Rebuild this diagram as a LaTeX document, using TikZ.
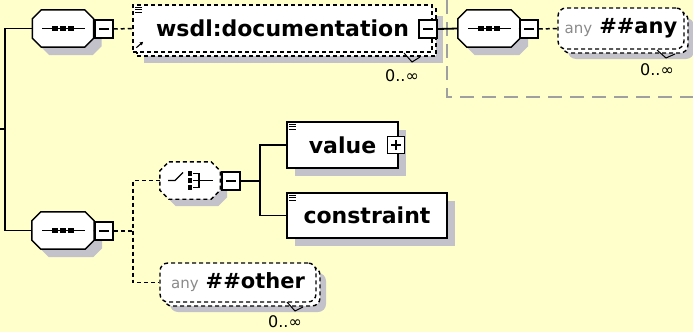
\documentclass[tikz,border=0pt]{standalone}
\usepackage{fontspec}
\setmainfont{DejaVu Sans}
\usetikzlibrary{arrows.meta}

\definecolor{paper}{HTML}{FFFFCC}
\definecolor{shadowgray}{HTML}{C3C1C9}
\definecolor{wildgray}{HTML}{8A8A8A}
\definecolor{framegray}{HTML}{A0A0A0}

\newcommand{\elemfont}{\fontsize{22}{26}\selectfont\bfseries}
\newcommand{\wildfont}{\fontsize{21}{25}\selectfont\bfseries}
\newcommand{\nsfont}{\fontsize{15}{18}\selectfont\color{wildgray}}
\newcommand{\occfont}{\fontsize{16}{19}\selectfont}

% octagon outline of a compositor node, corners cut by #2
\newcommand{\octpath}[2]{([xshift=#2]#1.north west) -- ([xshift=-#2]#1.north east)
  -- ([yshift=-#2]#1.north east) -- ([yshift=#2]#1.south east)
  -- ([xshift=-#2]#1.south east) -- ([xshift=#2]#1.south west)
  -- ([yshift=#2]#1.south west) -- ([yshift=-#2]#1.north west) -- cycle}

% sequence compositor: shadow, octagon and the dotted bar
\newcommand{\seqshape}[1]{%
  \fill[shadowgray, transform canvas={shift={(8,8)}}] \octpath{#1}{9pt};
  \filldraw[fill=white, line width=1.5pt] \octpath{#1}{9pt};
  \draw[line width=1.5pt] ([xshift=-21pt]#1.center) -- ([xshift=22pt]#1.center);
  \foreach \dd in {-8,0,8}
    \fill ([xshift=\dd pt]#1.center) +(-2.7pt,-2.7pt) rectangle +(2.7pt,2.7pt);
}

\tikzset{
  conn/.style={line width=1.8pt},
  optconn/.style={line width=1.5pt, dash pattern=on 4pt off 3pt},
  dashborder/.style={line width=1.4pt, dash pattern=on 4pt off 3pt},
  dropshade/.style={preaction={fill=shadowgray, draw=none, transform canvas={shift={(#1,#1)}}}},
  stackcopy/.style={preaction={draw, fill=white, dashborder, transform canvas={shift={(#1,#1)}}}},
  slot/.style={rectangle, inner sep=0pt, minimum width=61pt, minimum height=37pt},
  toggle/.style={rectangle, draw, line width=1.5pt, fill=white, minimum width=18pt,
      minimum height=18pt, inner sep=0pt},
  minus/.style={path picture={
      \draw[black, line width=1.4pt, solid] ([xshift=-5pt]path picture bounding box.center) -- ([xshift=5pt]path picture bounding box.center);}},
  plus/.style={path picture={
      \draw[black, line width=1.4pt, solid] ([xshift=-5pt]path picture bounding box.center) -- ([xshift=5pt]path picture bounding box.center);
      \draw[black, line width=1.4pt, solid] ([yshift=-5pt]path picture bounding box.center) -- ([yshift=5pt]path picture bounding box.center);}},
  elem/.style={rectangle, draw, line width=1.5pt, fill=white, inner sep=0pt, font=\elemfont, dropshade=8},
  multielem/.style={rectangle, draw, dashborder, fill=white, inner sep=0pt, font=\elemfont,
      dropshade=11, stackcopy=4},
  multiwild/.style={rectangle, rounded corners=8pt, draw, dashborder, fill=white, inner sep=0pt,
      dropshade=10, stackcopy=4},
  occ/.style={font=\occfont, inner sep=0pt},
  notch/.style={line width=1pt},
  docmark/.style={line width=0.9pt},
  groupframe/.style={draw=framegray, line width=1.4pt, dash pattern=on 14pt off 8pt}
}

\begin{document}
\begin{tikzpicture}[x=1pt, y=-1pt]
  \fill[paper] (0,0) rectangle (693,332);
  \useasboundingbox (0,0) rectangle (693,332);

  % frame of the nested anonymous type
  \coordinate (frametop) at (447,0);
  \coordinate (frameend) at (693,97);
  \draw[groupframe] (frametop) |- (frameend);

  % upper branch: sequence -> wsdl:documentation -> sequence -> ##any
  \node[slot] (seq1) at (63,28.5) {};
  \seqshape{seq1}
  \node[toggle, minus] (t1) at (104,29) {};
  \node[multielem, minimum width=299pt, minimum height=47pt] (doc) at (282.5,28.5) {wsdl:documentation\hspace{14pt}};
  \node[toggle, minus] (t2) at (428,29) {};
  \node[slot, minimum width=62pt] (seq2) at (489,28.5) {};
  \seqshape{seq2}
  \node[toggle, minus] (t3) at (529,29) {};
  \node[multiwild, minimum width=126pt, minimum height=41pt] (anyA) at (621,28.5)
    {{\nsfont any}\hspace{7pt}{\wildfont\#\#any}};

  % lower branch: sequence -> choice (value | constraint), ##other
  \node[slot, minimum width=62pt] (seq3) at (63,230.5) {};
  \seqshape{seq3}
  \node[toggle, minus] (t4) at (104,231) {};
  \node[slot, minimum width=60pt] (choice) at (190,180.5) {};
  \fill[shadowgray, transform canvas={shift={(7,7)}}] \octpath{choice}{9pt};
  \filldraw[fill=white, dashborder] \octpath{choice}{9pt};
  \node[toggle, minus] (t5) at (231,181) {};
  \node[elem, minimum width=111pt, minimum height=46pt] (value) at (342.5,145) {value\hspace{12pt}};
  \node[toggle, plus, minimum width=17pt, minimum height=17pt] (t6) at (396,145) {};
  \node[elem, minimum width=160pt, minimum height=45pt] (constraint) at (367,215.5) {constraint};
  \node[multiwild, minimum width=156pt, minimum height=39pt] (other) at (238,282.5)
    {{\nsfont any}\hspace{7pt}{\wildfont\#\#other}};

  % occurrence labels
  \node[occ] (dococc) at (402,76) {0..∞};
  \node[occ] (anyocc) at (657,70) {0..∞};
  \node[occ] (otherocc) at (285,322) {0..∞};

  % choice icon
  \begin{scope}[shift={(choice.center)}]
    \draw[line width=1.4pt] (-22,0) -- (-15,0) -- (-7,-8);
    \foreach \k in {-7,0,7}
      \fill (-2.2,\k-2.2) rectangle (2.2,\k+2.2);
    \draw[line width=1.4pt] (3,-7) -- (9,-7) -- (9,7) -- (3,7);
    \draw[line width=1.4pt] (3,0) -- (23,0);
  \end{scope}

  % annotation marks and reference arrow
  \foreach \nm in {doc,value,constraint}
    \foreach \k in {0,1,2}
      \draw[docmark] ([shift={(3,{3+2.5*\k})}]\nm.north west) -- ++(7,0);
  \draw[line width=1.1pt, -{Latex[length=3.5pt,width=4pt]}] ([shift={(4,-5)}]doc.south west) -- ++(7,-6);

  % repetition notches
  \draw[notch] (404,53) -- (412,62) -- (420,57);
  \draw[notch] (657,50) -- (666,58) -- (675,54);
  \draw[notch] (287,302) -- (295,311) -- (303,307);

  % connectors
  \coordinate (rootin) at (0,129);
  \coordinate (trunk) at (5,129);
  \draw[conn] (rootin) -- (trunk);
  \draw[conn] (seq1.west) -| (trunk) |- (seq3.west);
  \draw[conn] (seq1.east) -- (t1.west);
  \draw[optconn] (t1.east) -- (doc.west);
  \draw[conn] (t2.east) -- (seq2.west);
  \draw[conn] (seq2.east) -- (t3.west);
  \draw[optconn] (t3.east) -- (anyA.west);
  \draw[conn] (seq3.east) -- (t4.west);
  \coordinate (fork) at (133,231);
  \draw[optconn] (t4.east) -- (fork);
  \draw[optconn] (choice.west) -| (fork) |- (other.west);
  \draw[conn] (choice.east) -- (t5.west);
  \coordinate (fork2) at (260,181);
  \draw[conn] (t5.east) -- (fork2);
  \draw[conn] (value.west) -| (fork2) |- (constraint.west);
\end{tikzpicture}
\end{document}
